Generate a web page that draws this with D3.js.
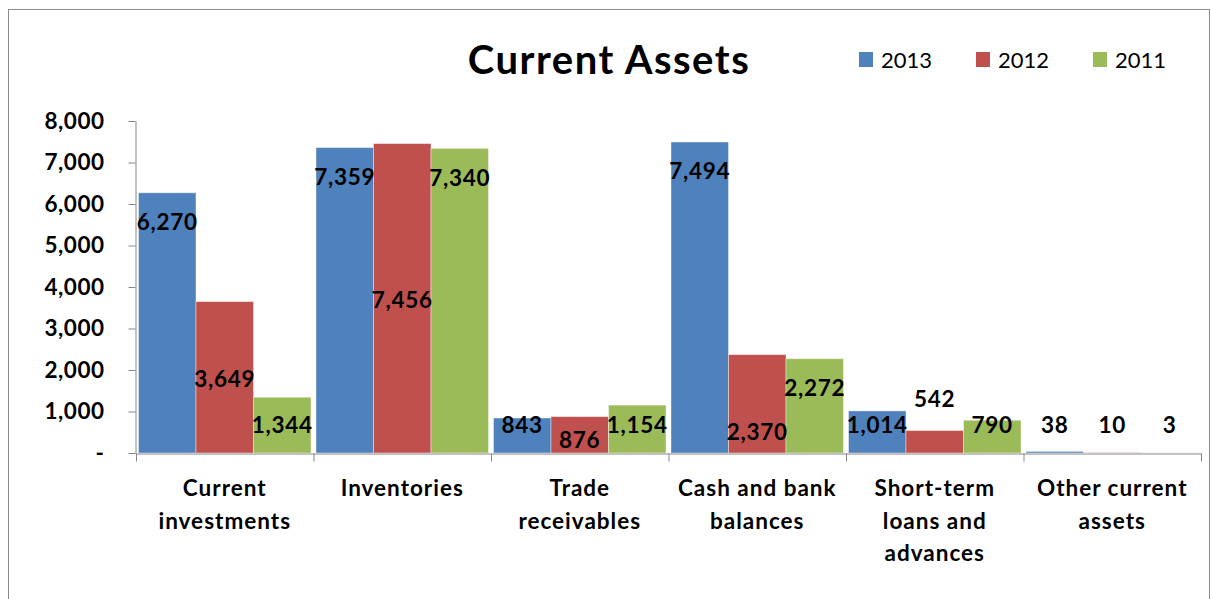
<!DOCTYPE html>
<html><head><meta charset="utf-8">
<script src="https://cdn.jsdelivr.net/npm/d3@7"></script>
<style>body{margin:0;background:#fff;overflow:hidden}</style>
</head><body><svg id="c" width="1211" height="599"></svg>
<script>
// ---------- DATA ----------
const categories = [["Current","investments"],["Inventories"],["Trade","receivables"],["Cash and bank","balances"],["Short-term","loans and","advances"],["Other current","assets"]];
const seriesNames = ["2013","2012","2011"];
const values2013 = [6270,7359,843,7494,1014,38];
const values2012 = [3649,7456,876,2370,542,10];
const values2011 = [1344,7340,1154,2272,790,3];
const yTicks = [0,1000,2000,3000,4000,5000,6000,7000,8000];
const titleText = "Current Assets";

// ---------- LAYOUT / STYLE ----------
const colors = ["#4F81BD","#C0504D","#9BBB59"];
// label centre placement (value units), mimicking the reference's manual label positions
const labelAt = [
  [5566,6651,675,6795,675,675],
  [1783,3687,313,506,1301,675],
  [675,6627,675,1566,675,675]
];
const font = "Lato, 'Open Sans', sans-serif";
const series = [values2013, values2012, values2011];

const svg = d3.select("#c");
svg.append("rect").attr("x",8.5).attr("y",9.5).attr("width",1201).attr("height",640)
  .attr("fill","none").attr("stroke","#8c8c8c").attr("stroke-width",1);

const y = d3.scaleLinear().domain([0,8000]).range([453,121]);
const x = d3.scaleBand().domain(d3.range(categories.length)).range([136,1201]).padding(0);
const x1 = d3.scaleBand().domain(d3.range(seriesNames.length)).range([2.5, x.bandwidth()-2.5]).padding(0);

// bars
series.forEach((vals, si) => {
  svg.append("g").selectAll("rect").data(vals).join("rect")
    .attr("x",(d,i)=>x(i)+x1(si))
    .attr("width",x1.bandwidth())
    .attr("y",d=>y(d))
    .attr("height",d=>y(0)-y(d))
    .attr("fill",colors[si])
    .attr("stroke","#ffffff").attr("stroke-opacity",0.5).attr("stroke-width",0.8);
});

// y axis
const yAxis = d3.axisLeft(y).tickValues(yTicks).tickSize(7).tickSizeOuter(0).tickPadding(24)
  .tickFormat(d => d === 0 ? "-" : d3.format(",")(d));
const gy = svg.append("g").attr("transform","translate(135.5,0)").call(yAxis);
gy.select(".domain").attr("stroke","#868686");
gy.selectAll(".tick line").attr("stroke","#868686");
gy.selectAll(".tick text").attr("font-family",font).attr("font-weight","bold").attr("font-size",22.5)
  .attr("letter-spacing",0.5).attr("fill","#000");

// x axis (category boundaries)
const bx = d3.scaleLinear().domain([0,categories.length]).range([136,1201]);
const xAxis = d3.axisBottom(bx).tickValues(d3.range(categories.length+1)).tickSize(8).tickSizeOuter(0).tickFormat("");
const gx = svg.append("g").attr("transform","translate(0,453.5)").call(xAxis);
gx.select(".domain").attr("stroke","#868686");
gx.selectAll(".tick line").attr("stroke","#868686");

// category labels
categories.forEach((lines,i) => {
  const t = svg.append("text").attr("x",x(i)+x.bandwidth()/2).attr("y",496)
    .attr("text-anchor","middle").attr("font-family",font).attr("font-weight","bold").attr("font-size",22.5)
    .attr("letter-spacing",1).attr("fill","#000");
  lines.forEach((ln,k)=>{
    t.append("tspan").attr("x",x(i)+x.bandwidth()/2).attr("dy",k===0?0:32.5).text(ln);
  });
});

// data labels
series.forEach((vals, si) => {
  svg.append("g").selectAll("text").data(vals).join("text")
    .attr("x",(d,i)=>x(i)+x1(si)+x1.bandwidth()/2)
    .attr("y",(d,i)=>y(labelAt[si][i])+8)
    .attr("text-anchor","middle")
    .attr("font-family",font).attr("font-weight","bold").attr("font-size",22.5).attr("letter-spacing",0.7).attr("fill","#000")
    .text(d=>d3.format(",")(d));
});

// title
svg.append("text").attr("x",609).attr("y",74).attr("text-anchor","middle")
  .attr("font-family",font).attr("font-weight","bold").attr("font-size",40).attr("letter-spacing",1.5).attr("fill","#000")
  .text(titleText);

// legend
const legX = [859,976,1093];
seriesNames.forEach((n,i)=>{
  svg.append("rect").attr("x",legX[i]).attr("y",52).attr("width",14).attr("height",15).attr("fill",colors[i]);
  svg.append("text").attr("x",legX[i]+22).attr("y",67.5).attr("font-family",font).attr("font-size",22).attr("fill","#000").text(n);
});
</script></body></html>
